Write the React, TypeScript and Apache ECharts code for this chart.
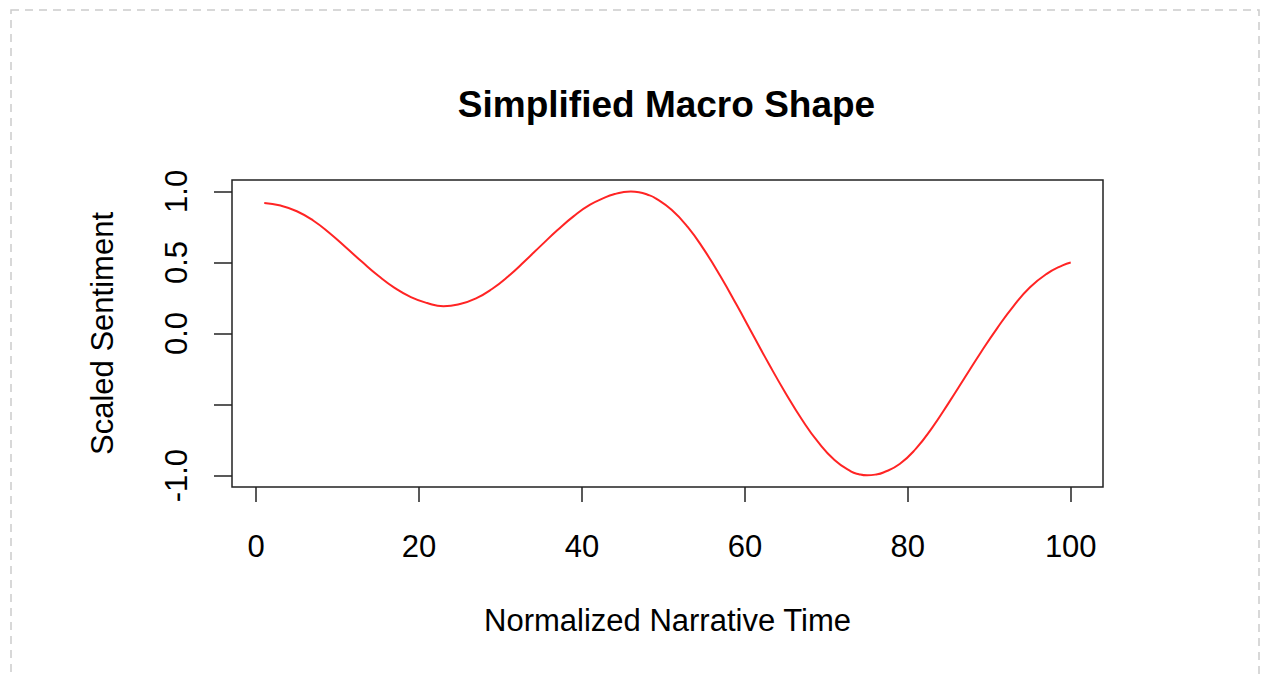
import React, { useEffect, useRef } from "react";
import * as echarts from "echarts";

const chartTitle = "Simplified Macro Shape";
const xAxisTitle = "Normalized Narrative Time";
const yAxisTitle = "Scaled Sentiment";

const timeValues = [
  1, 3, 5, 7, 9, 11, 13, 15, 17, 19, 21, 23, 25, 27, 29, 31, 33, 35, 37, 39,
  41, 43, 44, 45, 46, 47, 48, 49, 51, 53, 55, 57, 59, 61, 63, 65, 67, 69, 71,
  73, 74, 75, 76, 77, 79, 81, 83, 85, 87, 89, 91, 93, 95, 97, 99, 100,
];
const sentimentValues = [
  0.918, 0.9, 0.86, 0.795, 0.707, 0.607, 0.504, 0.406, 0.321, 0.256, 0.214,
  0.192, 0.207, 0.247, 0.315, 0.405, 0.51, 0.62, 0.728, 0.826, 0.906, 0.961,
  0.981, 0.994, 0.999, 0.994, 0.978, 0.953, 0.87, 0.748, 0.588, 0.403, 0.2,
  -0.01, -0.22, -0.42, -0.605, -0.765, -0.89, -0.97, -0.99, -0.998, -0.993,
  -0.978, -0.918, -0.81, -0.662, -0.49, -0.31, -0.13, 0.04, 0.195, 0.325,
  0.418, 0.48, 0.5,
];

const xTicks = [0, 20, 40, 60, 80, 100];
const yTicks = [-1, -0.5, 0, 0.5, 1];
const yLabelTicks = [-1, 0, 0.5, 1];

const FONT = "'Liberation Sans', Arial, Helvetica, sans-serif";

export default function App() {
  const ref = useRef<HTMLDivElement>(null);

  useEffect(() => {
    if (!ref.current) return;
    const chart = echarts.init(ref.current, null, { renderer: "svg" });
    const data = timeValues.map((t, i) => [t, sentimentValues[i]]);

    chart.setOption({
      animation: false,
      backgroundColor: "#ffffff",
      grid: {
        left: 232,
        top: 180,
        width: 871,
        height: 307,
        show: true,
        borderColor: "#222",
        borderWidth: 1.5,
        backgroundColor: "transparent",
      },
      graphic: [
        {
          type: "rect",
          shape: { x: 11, y: 10, width: 1248, height: 700 },
          style: {
            fill: "none",
            stroke: "#cccccc",
            lineWidth: 1.5,
            lineDash: [8, 6],
          },
          silent: true,
        },
        {
          type: "text",
          x: 666.5,
          y: 104,
          style: {
            text: chartTitle,
            font: `bold 37px ${FONT}`,
            fill: "#000",
            textAlign: "center",
            textVerticalAlign: "middle",
          },
        },
      ],
      xAxis: {
        type: "value",
        min: -2.96,
        max: 103.96,
        name: xAxisTitle,
        nameLocation: "middle",
        nameGap: 118,
        nameTextStyle: { fontFamily: FONT, fontSize: 31, color: "#000" },
        axisLine: { show: false, onZero: false },
        splitLine: { show: false },
        axisTick: {
          show: true,
          inside: false,
          length: 15,
          customValues: xTicks,
          lineStyle: { color: "#222", width: 1.5 },
        },
        axisLabel: {
          customValues: xTicks,
          margin: 44,
          fontFamily: FONT,
          fontSize: 31,
          color: "#000",
        },
      },
      yAxis: {
        type: "value",
        min: -1.08,
        max: 1.08,
        name: yAxisTitle,
        nameLocation: "middle",
        nameGap: 114,
        nameRotate: 90,
        nameTextStyle: { fontFamily: FONT, fontSize: 31, color: "#000" },
        axisLine: { show: false, onZero: false },
        splitLine: { show: false },
        axisTick: {
          show: true,
          inside: false,
          length: 18,
          customValues: yTicks,
          lineStyle: { color: "#222", width: 1.5 },
        },
        axisLabel: {
          customValues: yLabelTicks,
          rotate: 90,
          margin: 40,
          fontFamily: FONT,
          fontSize: 31,
          color: "#000",
          formatter: (v: number) => v.toFixed(1),
        },
      },
      series: [
        {
          type: "line",
          data,
          smooth: 0.5,
          showSymbol: false,
          lineStyle: { color: "#ff2424", width: 2 },
          silent: true,
        },
      ],
    });

    return () => chart.dispose();
  }, []);

  return (
    <div
      ref={ref}
      style={{
        position: "absolute",
        left: 0,
        top: 0,
        width: 1266,
        height: 676,
      }}
    />
  );
}
